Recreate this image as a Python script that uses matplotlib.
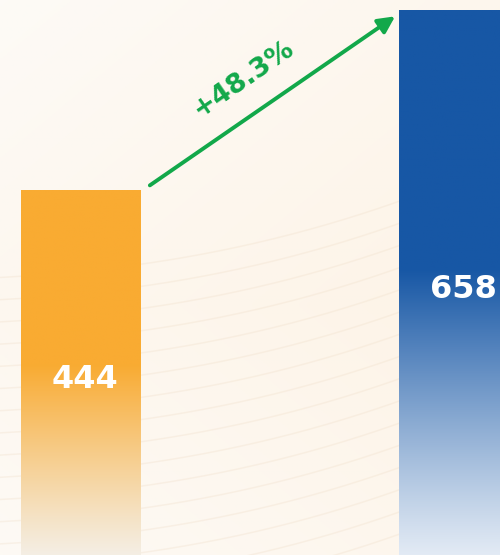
import numpy as np
import matplotlib
matplotlib.use("Agg")
import matplotlib.pyplot as plt
from matplotlib.colors import to_rgb

categories = ["Before", "After"]
values = [444, 658]
labels = ["444", "658"]
change_label = "+48.3%"
bar_colors = ["#F9AB32", "#1757A5"]
fade_colors = ["#F4F0E9", "#E6EDF6"]

fig = plt.figure(figsize=(5.0, 5.55), dpi=100)
ax = fig.add_axes([0, 0, 1, 1])
ax.set_xlim(-0.213, 1.110)
ax.set_ylim(9.5, 669.4)
ax.axis("off")

# background gradient
H, W = 200, 200
yy, xx = np.mgrid[0:1:H*1j, 0:1:W*1j]
c_top = np.array(to_rgb("#FDFBF7"))
c_mid = np.array(to_rgb("#FDF4E8"))
t = np.clip(0.6 * xx + 0.5 * (1 - np.abs(yy - 0.55) * 1.6), 0, 1)[..., None]
bg = c_top * (1 - t) + c_mid * t
ax.imshow(bg, extent=[0, 1, 0, 1], transform=ax.transAxes, aspect="auto",
          zorder=0, origin="upper")

# faint background lines (decorative)
xs = np.linspace(0, 1, 200)
for i in range(16):
    y0 = 0.50 - i * 0.040
    ys = y0 + 0.05 * xs + 0.16 * xs ** 2.2
    ax.plot(xs, ys, transform=ax.transAxes, color="#F1E0CC", lw=1.1,
            alpha=0.35, zorder=1)

width = 0.315
xpos = np.arange(len(values))
bars = ax.bar(xpos, values, width=width, color="none", zorder=2)
for b, v, c, f in zip(bars, values, bar_colors, fade_colors):
    n = 300
    frac = np.linspace(1, 0, n)  # top to bottom
    w = np.clip(frac / 0.53, 0, 1) ** 1.1
    top = np.array(to_rgb(c))
    bot = np.array(to_rgb(f))
    col = bot[None, :] * (1 - w[:, None]) + top[None, :] * w[:, None]
    img = np.repeat(col[:, None, :], 2, axis=1)
    x0 = b.get_x()
    im = ax.imshow(img, extent=[x0, x0 + width, 0, v], aspect="auto",
                   zorder=3, origin="upper")
    im.set_clip_path(b)

for x, v, lab in zip(xpos, values, labels):
    ax.text(x + 0.012, v / 2 - 4, lab, ha="center", va="center", color="white",
            fontsize=23, fontweight="bold", family="DejaVu Sans", zorder=5)

# growth arrow
start = (xpos[0] + width / 2 + 0.026, values[0] + 5)
end = (xpos[1] - width / 2 - 0.01, values[1] - 8)
ax.annotate("", xy=end, xytext=start,
            arrowprops=dict(arrowstyle="-|>,head_length=1.0,head_width=0.5",
                            color="#12A84A", lw=2.8, shrinkA=0, shrinkB=0),
            zorder=6)
p0 = ax.transData.transform(start)
p1 = ax.transData.transform(end)
ang = np.degrees(np.arctan2(p1[1] - p0[1], p1[0] - p0[0]))
ax.text(0.430, 575, change_label, rotation=ang, rotation_mode="anchor",
        ha="center", va="center", color="#12A84A", fontsize=19.5,
        fontweight="bold", family="DejaVu Sans", zorder=6)

fig.savefig("out.png", dpi=100)
